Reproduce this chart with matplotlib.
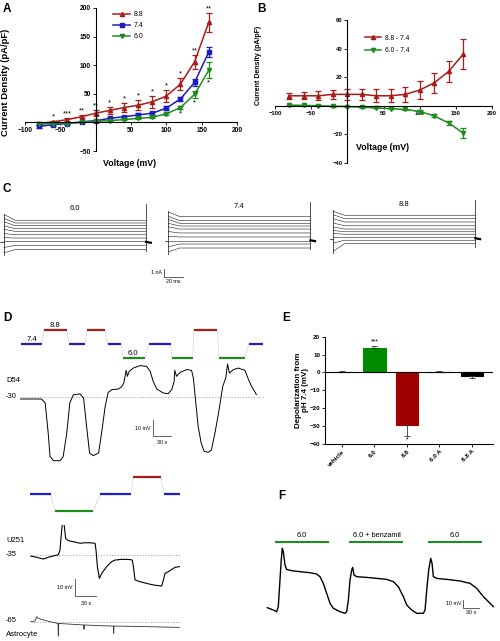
import matplotlib
matplotlib.use('Agg')
import matplotlib.pyplot as plt
from matplotlib.lines import Line2D

plt.rcParams['font.family'] = ['Liberation Sans', 'DejaVu Sans']

RED = '#a81c1c'
BLUE = '#1c1cc4'
GREEN = '#1f8c1f'

# ---- panel A: current density vs voltage at three pH values
voltage = [-80, -60, -40, -20, 0, 20, 40, 60, 80, 100, 120, 140, 160]
a_88 = [-2, 1, 5, 10, 16, 21, 26, 30, 36, 46, 67, 106, 175]
a_88_err = [2, 2, 2, 3, 5, 6, 8, 9, 10, 11, 11, 12, 17]
a_74 = [-7, -4, -2, 1, 3, 7, 10, 13, 16, 25, 41, 70, 123]
a_74_err = [2, 2, 1, 1, 1, 2, 2, 3, 3, 3, 4, 6, 8]
a_60 = [-3, -2, -2, 0, 2, 3, 5, 7, 9, 15, 26, 49, 91]
a_60_err = [1, 1, 1, 1, 1, 1, 1, 1, 1, 2, 3, 6, 14]
a_stars_top = ['', '*', '***', '**', '**', '*', '*', '*', '*', '*', '*', '**', '**']
a_stars_bottom = ['', '', '', '', '', '', '', '', '', '', '*', '*', '*']

# ---- panel B: differences from pH 7.4
b_88 = [7, 7, 7, 8, 8, 8, 7, 7, 8, 11, 16, 24, 36]
b_88_err = [2, 2.5, 3, 3, 4, 4, 4.5, 4.5, 5, 6.5, 7, 7.5, 10.5]
b_60 = [0.5, 0.3, 0, -0.3, -0.5, -1, -1.5, -2, -2.5, -4, -7, -12, -19]
b_60_err = [0.3, 0.3, 0.3, 0.3, 0.3, 0.3, 0.3, 0.3, 0.5, 0.8, 1, 1.5, 3.5]

# ---- panel C: current traces (nA), start value and steady level per sweep
c_start_60 = [3.2, 2.75, 2.35, 1.9, 1.5, 1.0, 0.55, 0.1, -0.6, -1.2]
c_level_60 = [2.53, 2.22, 1.91, 1.56, 1.26, 0.87, 0.49, 0.11, -0.34, -0.85]
c_start_74 = [3.3, 2.8, 2.45, 2.0, 1.6, 1.05, 0.5, 0.0, -0.7, -1.3]
c_level_74 = [2.79, 2.30, 2.00, 1.69, 1.34, 0.89, 0.43, 0.0, -0.38, -0.84]
c_start_88 = [3.15, 2.75, 2.3, 1.8, 1.35, 0.95, 0.6, 0.2, -0.5, -1.45]
c_level_88 = [2.69, 2.31, 1.92, 1.49, 1.11, 0.80, 0.51, 0.20, -0.18, -0.57]
c_duration_ms = 152

# ---- panel D: D54 protocol and trace
d_prot_start = [1, 40, 82, 112, 146, 172, 215, 253, 290, 332, 381]
d_prot_end = [36, 78, 108, 142, 169, 208, 251, 288, 329, 375, 405]
d_prot_ph = [7.4, 8.8, 7.4, 8.8, 7.4, 6.0, 7.4, 6.0, 8.8, 6.0, 7.4]
d54_t = [0, 36, 42, 47, 50, 56, 67, 72, 78, 83, 89, 100, 106, 111, 116, 122, 131,
         136, 142, 147, 153, 164, 169, 173, 177, 179, 182, 189, 200, 211, 217, 222,
         228, 239, 247, 253, 257, 258, 261, 267, 278, 286, 289, 292, 297, 302, 307,
         314, 319, 325, 331, 338, 343, 346, 349, 356, 364, 375, 381, 386, 392, 394]
d54_mv = [-31.3, -31.3, -33.9, -53.5, -68.8, -71.6, -71.6, -68.8, -53.5, -33.9,
          -28.5, -28.0, -30.7, -49.2, -66.6, -68.3, -66.6, -53.5, -36.1, -27.0,
          -25.2, -24.8, -23.5, -20.9, -12.6, -16.5, -13.2, -11.1, -9.5, -10.0,
          -13.2, -19.8, -24.8, -27.4, -27.8, -25.2, -19.8, -12.6, -16.5, -13.9,
          -12.1, -12.6, -17.6, -29.6, -49.2, -60.0, -65.5, -66.1, -64.8, -53.5,
          -40.4, -23.0, -17.6, -8.4, -14.3, -12.1, -11.1, -12.6, -18.7, -23.0,
          -27.0, -28.5]

# ---- panel D: U251 protocol and trace, astrocyte trace
u_prot_start = [-1, 35, 101, 149, 193]
u_prot_end = [29, 91, 145, 189, 217]
u_prot_ph = [7.4, 6.0, 7.4, 8.8, 7.4]
u251_t = [0, 8.7, 18.4, 28, 40.1, 42.5, 44.5, 46.4, 48.3, 50.7, 54.6, 61.9, 71.5,
          78.8, 86, 93.3, 94.7, 96.7, 99.6, 102.9, 110.2, 117.4, 122.3, 131.9,
          141.6, 147.4, 148.9, 151.3, 158.5, 168.2, 177.9, 189.9, 192.4, 194.8,
          199.6, 204.4, 209.3, 215.6]
u251_mv = [-35.8, -36.5, -37.5, -36.2, -35.0, -32.3, -22.7, -14.6, -16.9, -25.6,
           -26.9, -27.5, -28.4, -28.1, -28.1, -28.4, -32.3, -41.9, -48.7, -45.8,
           -41.9, -39.0, -38.1, -37.7, -37.7, -38.1, -41.9, -49.6, -50.6, -51.6,
           -52.5, -53.1, -49.6, -45.8, -44.8, -43.5, -42.3, -41.9]
astro_t = [0, 6.3, 8.7, 11.1, 18.4, 28, 39.6, 40.1, 40.6, 52.2, 76.8, 77.3, 77.8,
           100.5, 119.9, 120.3, 120.8, 148.9, 173, 215.6]
astro_mv = [-65, -64.6, -62.1, -63.1, -64, -65, -66, -73.3, -66, -66.3, -66.9,
            -69.4, -66.9, -67.3, -67.5, -71.7, -67.5, -67.7, -67.9, -68.3]

# ---- panel E: depolarization from pH 7.4
e_labels = ['vehicle', '6.0', '8.8', '6.0 A', '8.8 A']
e_vals = [0.4, 13.8, -29.4, 0.4, -2.0]
e_err = [0.2, 0.8, 6.1, 0.3, 0.9]
e_stars = ['', '***', '*', '', '']
e_colors = ['#5a5ab4', '#008a00', '#a00000', 'black', 'black']

# ---- panel F: trace with benzamil
f_bar_start = [15, 157, 306]
f_bar_end = [118, 260, 410]
f_bar_labels = ['6.0', '6.0 + benzamil', '6.0']
f_t = [0, 11.5, 17.8, 21, 24.2, 26.8, 28.7, 30.6, 33.8, 36.9, 46.5, 62.4, 81.5,
       94.3, 100.6, 107, 113.4, 119.8, 126.1, 138.9, 148.4, 151.6, 154.8, 158,
       161.2, 163.1, 165.6, 170.7, 189.8, 208.9, 228, 240.8, 250.3, 259.9, 266.3,
       275.8, 285.4, 298.1, 301.3, 304.5, 308.3, 312.1, 314.7, 317.2, 323.6,
       342.7, 368.2, 387.3, 400, 412.8, 425.5, 431.9]
f_mv = [3.0, 0, -2.2, 4.3, 39, 66.2, 80.1, 75.8, 58.5, 52.8, 51.1, 49.8, 48.5,
        46.8, 43.3, 34.6, 21.7, 8.7, 2.2, -2.2, -4.3, -2.2, 13, 39, 52, 55.4, 45.5,
        43.3, 42.4, 41.1, 39.8, 36.8, 30.3, 17.3, 6.5, 0, -4.3, -4.3, 0, 26, 52,
        67.1, 60.6, 43.3, 41.1, 39.8, 37.7, 34.6, 28.1, 17.3, 8.7, 4.3]

PH_COLORS = {7.4: BLUE, 8.8: RED, 6.0: GREEN}

W, H = 500, 641
fig = plt.figure(figsize=(W / 100, H / 100), dpi=100)


def px_axes(x0, y0, x1, y1):
    # axes placed by pixel box (top-left origin)
    return fig.add_axes([x0 / W, 1 - y1 / H, (x1 - x0) / W, (y1 - y0) / H])


def px_text(x, y, s, **kw):
    fig.text(x / W, 1 - y / H, s, **kw)


def iv_axes(ax, ylim, xticks, yticks, fs):
    ax.set_xlim(-100, 200)
    ax.set_ylim(*ylim)
    ax.patch.set_visible(False)
    for side in ['top', 'right']:
        ax.spines[side].set_visible(False)
    ax.spines['left'].set_position(('data', 0))
    ax.spines['bottom'].set_position(('data', 0))
    for side in ['left', 'bottom']:
        ax.spines[side].set_linewidth(0.8)
    ax.set_xticks(xticks)
    ax.set_yticks(yticks)
    ax.tick_params(labelsize=fs, length=2, width=0.6, pad=1.5)
    for lbl in ax.get_xticklabels() + ax.get_yticklabels():
        lbl.set_fontweight('bold')


def trace_axes(x0, y0, x1, y1, xlim, ylim):
    ax = px_axes(x0, y0, x1, y1)
    ax.set_xlim(*xlim)
    ax.set_ylim(*ylim)
    ax.axis('off')
    return ax


def draw_protocol(ax, starts, ends, phs):
    xs, ys = [], []
    for s, e, p in zip(starts, ends, phs):
        xs += [s, e]
        ys += [p, p]
    ax.plot(xs, ys, color='#aaaaaa', lw=0.5, ls=(0, (1, 1)))
    for s, e, p in zip(starts, ends, phs):
        ax.plot([s, e], [p, p], color=PH_COLORS[p], lw=1.6, solid_capstyle='butt')


def scale_bar(ax, x, y, dx, dy, xlabel, ylabel, fs=3.8):
    ax.plot([x, x, x + dx], [y + dy, y, y], color='#444444', lw=0.6, clip_on=False)
    ax.text(x - dx * 0.12, y + dy / 2, ylabel, fontsize=fs, ha='right', va='center')
    ax.text(x + dx / 2, y - dy * 0.25, xlabel, fontsize=fs, ha='center', va='top')


# ---------------- panel A
ax = px_axes(25, 8, 237, 151)
iv_axes(ax, (-50, 200), [-100, -50, 50, 100, 150, 200], [-50, 50, 100, 150, 200], 4.8)
for vals, errs, col, mk in [(a_88, a_88_err, RED, '^'), (a_74, a_74_err, BLUE, 's'),
                            (a_60, a_60_err, GREEN, 'v')]:
    ax.errorbar(voltage, vals, yerr=errs, color=col, marker=mk, ms=3, lw=1.1,
                capsize=2, elinewidth=0.9, capthick=0.9, clip_on=False)
for v, val, err, s in zip(voltage, a_88, a_88_err, a_stars_top):
    ax.text(v, val + err + 1, s, fontsize=5.5, ha='center', va='bottom')
for v, val, err, s in zip(voltage, a_60, a_60_err, a_stars_bottom):
    ax.text(v, val - err - 2, s, fontsize=5.5, ha='center', va='top')
handles = [Line2D([], [], color=RED, marker='^', ms=3, lw=1.1),
           Line2D([], [], color=BLUE, marker='s', ms=3, lw=1.1),
           Line2D([], [], color=GREEN, marker='v', ms=3, lw=1.1)]
ax.legend(handles, ['8.8', '7.4', '6.0'], loc='upper left', bbox_to_anchor=(0.4, 1.0),
          frameon=False, fontsize=5, handlelength=2.4, handletextpad=0.6,
          labelspacing=0.55, borderpad=0)
px_text(6, 82, 'Current Density (pA/pF)', fontsize=6.8, fontweight='bold',
        rotation=90, ha='center', va='center')
px_text(130, 163, 'Voltage (mV)', fontsize=6.3, fontweight='bold', ha='center', va='center')
px_text(7, 9, 'A', fontsize=8.5, fontweight='bold', ha='center', va='center')

# ---------------- panel B
ax = px_axes(275, 20, 492, 163)
iv_axes(ax, (-40, 60), [-100, -50, 50, 100, 150, 200], [-40, -20, 20, 40, 60], 4.2)
ax.errorbar(voltage, b_88, yerr=b_88_err, color=RED, marker='^', ms=3, lw=1.1,
            capsize=2, elinewidth=0.9, capthick=0.9)
ax.errorbar(voltage, b_60, yerr=b_60_err, color=GREEN, marker='v', ms=3, lw=1.1,
            capsize=2, elinewidth=0.9, capthick=0.9)
handles = [Line2D([], [], color=RED, marker='^', ms=3, lw=1.1),
           Line2D([], [], color=GREEN, marker='v', ms=3, lw=1.1)]
ax.legend(handles, ['8.8 - 7.4', '6.0 - 7.4'], loc='upper left', bbox_to_anchor=(0.4, 0.92),
          frameon=False, fontsize=4.8, handlelength=2.4, handletextpad=0.6,
          labelspacing=0.8, borderpad=0)
px_text(258, 65, 'Current Density (pA/pF)', fontsize=5, fontweight='bold',
        rotation=90, ha='center', va='center')
px_text(383, 147, 'Voltage (mV)', fontsize=6.3, fontweight='bold', ha='center', va='center')
px_text(262, 9, 'B', fontsize=8.5, fontweight='bold', ha='center', va='center')

# ---------------- panel C
PX_PER_MS = 0.935
PX_PER_NA = 8.7
px_text(7, 189, 'C', fontsize=8.5, fontweight='bold', ha='center', va='center')
c_blocks = [('6.0', 4, 242.3, c_start_60, c_level_60),
            ('7.4', 168.3, 240.7, c_start_74, c_level_74),
            ('8.8', 333.3, 238.7, c_start_88, c_level_88)]
c_axes = []
for name, x0, y_hold, starts, levels in c_blocks:
    y_top, y_bot = 198, 262
    ax = trace_axes(x0 - 6, y_top, x0 + 160, y_bot,
                    (-6 / PX_PER_MS, 160 / PX_PER_MS),
                    ((y_hold - y_bot) / PX_PER_NA, (y_hold - y_top) / PX_PER_NA))
    for s, lv in zip(starts, levels):
        ax.plot([0, 12, c_duration_ms], [s, lv, lv], color='#333333', lw=0.45)
    ax.plot([0, 0], [max(starts) + 0.1, min(starts) - 0.25], color='#333333', lw=0.6)
    ax.plot([c_duration_ms, c_duration_ms], [4.4, -1.0], color='#333333', lw=0.6)
    ax.plot([-4, 0], [0, 0], color='#333333', lw=0.6)
    ax.plot([c_duration_ms, c_duration_ms + 5], [0.05, -0.05], color='black', lw=1.6)
    ax.text(c_duration_ms / 2, 3.9, name, fontsize=5.5, ha='center', va='center')
    c_axes.append(ax)
scale_bar(c_axes[1], -4.6, -4.2, 20, 1, '20 ms', '1 nA', fs=3.8)

# ---------------- panel D (D54)
px_text(7, 318, 'D', fontsize=8.5, fontweight='bold', ha='center', va='center')
D_S_PER_PX = 1.667
D_MV_PER_PX = 0.653
ax = trace_axes(20, 320, 265, 365, (0, 245 * D_S_PER_PX),
                (7.4 - (365 - 344) / 10, 7.4 + (344 - 320) / 10))
draw_protocol(ax, d_prot_start, d_prot_end, d_prot_ph)
ax.text(20, 7.5, '7.4', fontsize=5.5, ha='center', va='bottom')
ax.text(58, 8.9, '8.8', fontsize=5.5, ha='center', va='bottom')
ax.text(188, 6.1, '6.0', fontsize=5.5, ha='center', va='bottom')

ax = trace_axes(20, 318, 265, 470, (0, 245 * D_S_PER_PX),
                (-30 - (470 - 397) * D_MV_PER_PX, -30 + (397 - 318) * D_MV_PER_PX))
ax.axhline(-30, color='#999999', lw=0.5, ls=(0, (2, 2)))
ax.plot(d54_t, d54_mv, color='black', lw=0.7)
scale_bar(ax, 221, -55.3, 30, 10, '30 s', '10 mV', fs=3.8)
px_text(6, 381, 'D54', fontsize=5.5, ha='left', va='center')
px_text(6, 397, '-30', fontsize=5.5, ha='left', va='center')

# ---------------- panel D (U251 + astrocyte)
U_S_PER_PX = 1.45
U_MV_PER_PX = 0.578
u_xlim = ((20 - 30.7) * U_S_PER_PX, (200 - 30.7) * U_S_PER_PX)
ax = trace_axes(20, 470, 200, 520, u_xlim,
                (7.4 - (520 - 494) / 11.8, 7.4 + (494 - 470) / 11.8))
draw_protocol(ax, u_prot_start, u_prot_end, u_prot_ph)

ax = trace_axes(20, 525, 200, 600, u_xlim,
                (-35 - (600 - 554.7) * U_MV_PER_PX, -35 + (554.7 - 525) * U_MV_PER_PX))
ax.plot([0, 216], [-35, -35], color='#999999', lw=0.5, ls=(0, (2, 2)))
ax.plot(u251_t, u251_mv, color='black', lw=0.8)
scale_bar(ax, 64.8, -59.1, 30, 10, '30 s', '10 mV', fs=3.8)
px_text(6, 540, 'U251', fontsize=5.5, ha='left', va='center')
px_text(6, 555, '-35', fontsize=5.5, ha='left', va='center')

ax = trace_axes(20, 605, 200, 641, u_xlim,
                (-65 - (641 - 621.7) * U_MV_PER_PX, -65 + (621.7 - 605) * U_MV_PER_PX))
ax.plot([0, 216], [-65, -65], color='#999999', lw=0.5, ls=(0, (2, 2)))
ax.plot(astro_t, astro_mv, color='#333333', lw=0.6)
px_text(6, 621, '-65', fontsize=5.5, ha='left', va='center')
px_text(6, 634, 'Astrocyte', fontsize=5.5, ha='left', va='center')

# ---------------- panel E
px_text(286, 318, 'E', fontsize=8.5, fontweight='bold', ha='center', va='center')
ax = px_axes(325, 336.7, 493, 444)
pos = list(range(len(e_vals)))
err_lo = [e if v < 0 else 0 for v, e in zip(e_vals, e_err)]
err_hi = [e if v >= 0 else 0 for v, e in zip(e_vals, e_err)]
ax.bar(pos, e_vals, width=0.69, color=e_colors, edgecolor=e_colors, lw=0.8)
ax.errorbar(pos, e_vals, yerr=[err_lo, err_hi], fmt='none', ecolor='#333333',
            elinewidth=0.6, capsize=2.5, capthick=0.6)
for p, v, e, s in zip(pos, e_vals, e_err, e_stars):
    if v >= 0:
        ax.text(p, v + e + 0.5, s, fontsize=5, ha='center', va='bottom')
    else:
        ax.text(p, v - e - 0.3, s, fontsize=5, ha='center', va='top')
ax.axhline(0, color='black', lw=0.8)
ax.set_xlim(-0.52, 4.65)
ax.set_ylim(-40, 20)
ax.set_yticks([-40, -30, -20, -10, 0, 10, 20])
ax.set_xticks(pos)
ax.set_xticklabels(e_labels, rotation=45, ha='right', rotation_mode='anchor')
ax.tick_params(labelsize=4.5, length=2, width=0.6, pad=1.5)
for lbl in ax.get_xticklabels() + ax.get_yticklabels():
    lbl.set_fontweight('bold')
for side in ['top', 'right']:
    ax.spines[side].set_visible(False)
for side in ['left', 'bottom']:
    ax.spines[side].set_linewidth(0.8)
px_text(302, 390, 'Depolarization from\npH 7.4 (mV)', fontsize=5.8, fontweight='bold',
        rotation=90, ha='center', va='center', linespacing=1.1)

# ---------------- panel F
px_text(282, 496, 'F', fontsize=8.5, fontweight='bold', ha='center', va='center')
F_S_PER_PX = 1.91
F_MV_PER_PX = 1.3
ax = trace_axes(262, 528, 500, 625, ((262 - 267.3) * F_S_PER_PX, (500 - 267.3) * F_S_PER_PX),
                ((610 - 625) * F_MV_PER_PX, (610 - 528) * F_MV_PER_PX))
for s, e, lab in zip(f_bar_start, f_bar_end, f_bar_labels):
    ax.plot([s, e], [88.4, 88.4], color=GREEN, lw=1.5, solid_capstyle='butt')
    ax.text((s + e) / 2, 92, lab, fontsize=5.3, ha='center', va='bottom')
ax.plot(f_t, f_mv, color='black', lw=1.0)
scale_bar(ax, 374.6, 3.0, 30, 10, '30 s', '10 mV', fs=3.8)

fig.savefig('out.png', dpi=100)
